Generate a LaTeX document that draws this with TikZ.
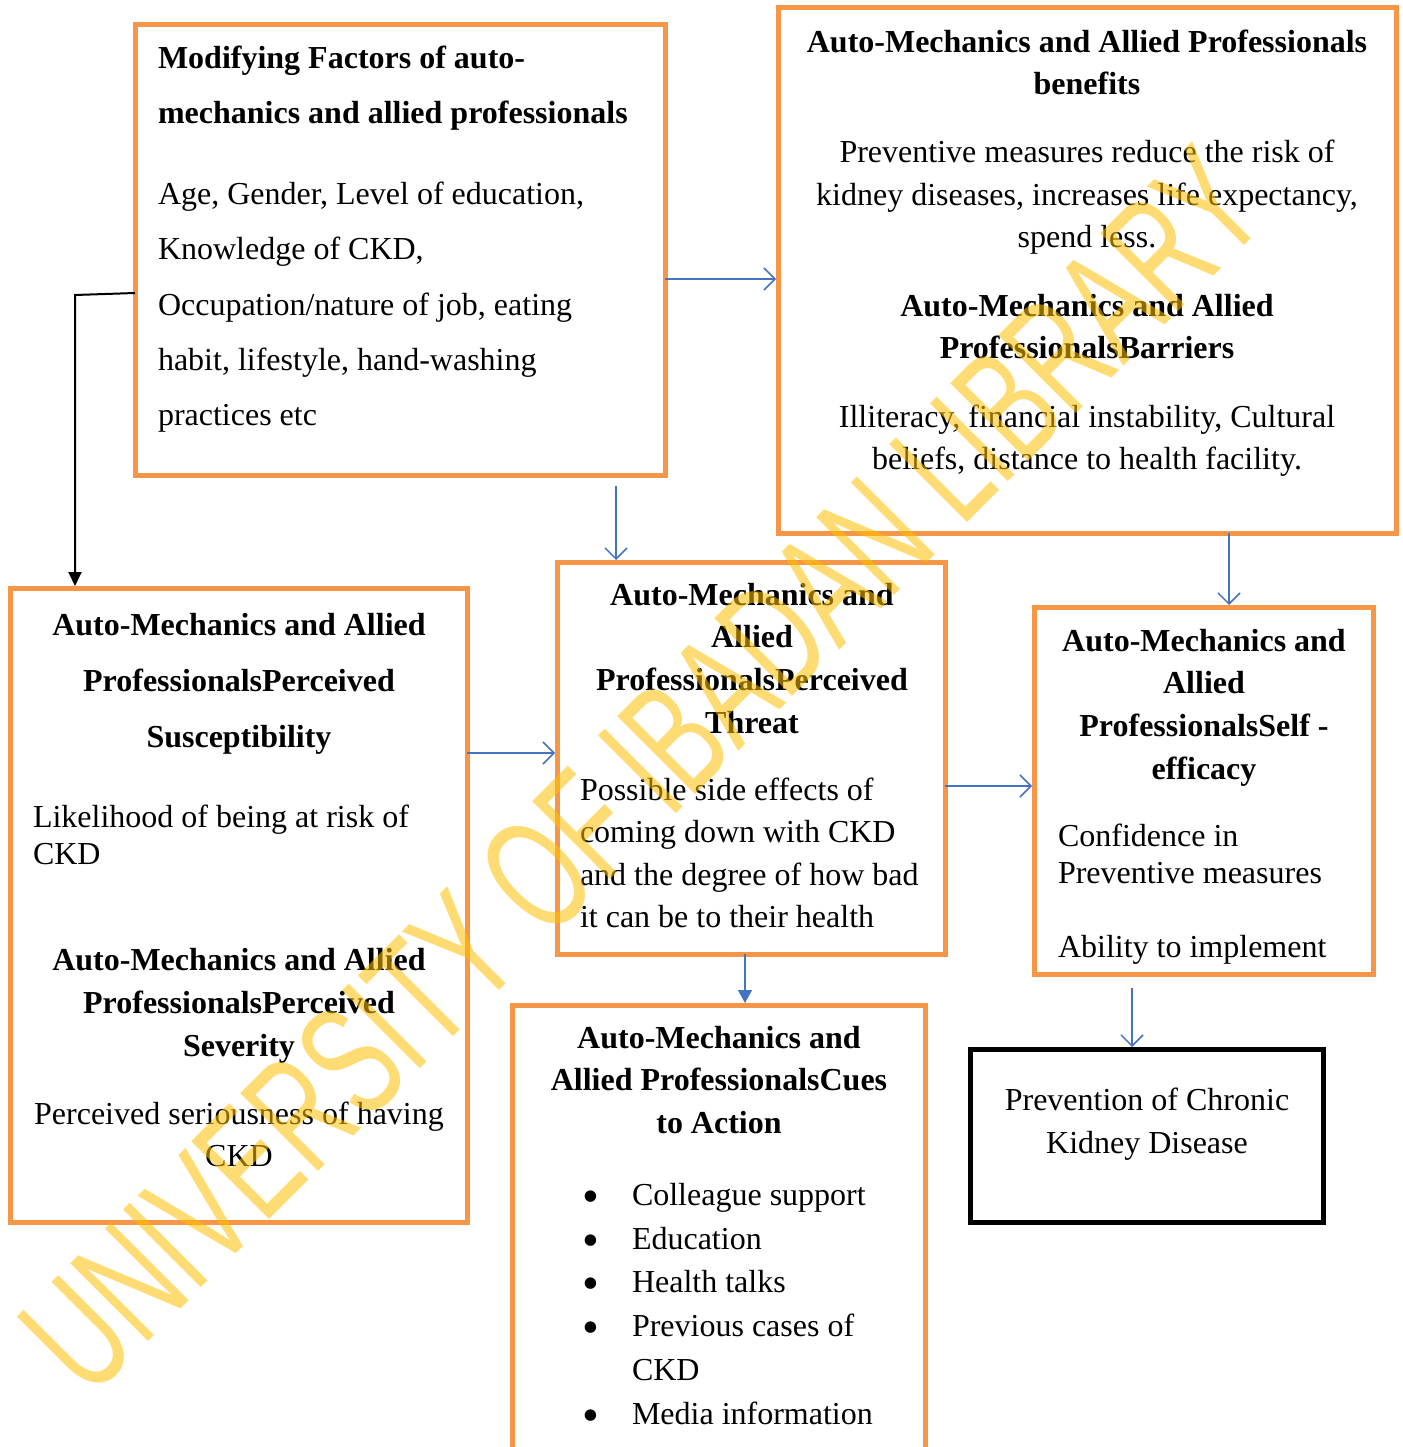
\documentclass[tikz,border=0pt]{standalone}
\usepackage{fontspec}
\setmainfont{Liberation Serif}
\newfontfamily\wmfont[FakeStretch=0.645]{Liberation Sans}
\usetikzlibrary{arrows.meta}
\definecolor{boxorange}{HTML}{F79646}
\definecolor{arrblue}{HTML}{4472C4}
\definecolor{wmyellow}{HTML}{FFC000}
\newcommand\fsz[1]{\fontsize{32}{#1}\selectfont}
\newcommand\bul{\llap{\raisebox{-7pt}{\fontsize{48}{48}\selectfont\textbullet}\hspace{33pt}}}
\begin{document}
\begin{tikzpicture}[x=1pt,y=-1pt,
  box/.style={draw=boxorange,line width=5pt,inner sep=0pt,outer sep=0pt},
  tc/.style={inner sep=0pt,outer sep=0pt,anchor=north,align=center},
  tl/.style={inner sep=0pt,outer sep=0pt,anchor=north west,align=left},
  arr/.style={draw=arrblue,line width=1.5pt,shorten >=2pt,-{Straight Barb[length=11pt,width=22pt,line width=1.5pt]}},
  arrf/.style={draw=arrblue,line width=1.5pt,shorten >=2pt,-{Triangle[length=13pt,width=14pt]}},
  blk/.style={draw=black,line width=2pt,shorten >=2pt,-{Triangle[length=14pt,width=13pt]}}]
\useasboundingbox (0,0) rectangle (1402,1447);
\clip (0,0) rectangle (1402,1447);
\fill[white] (0,0) rectangle (1402,1447);

% boxes
\node[box,minimum width=530,minimum height=450] (A) at (400,250) {};
\node[box,minimum width=618,minimum height=525] (B) at (1087,270.5) {};
\node[box,minimum width=457,minimum height=634] (C) at (238.5,905) {};
\node[box,minimum width=388,minimum height=392] (D) at (751,758) {};
\node[box,minimum width=339,minimum height=367] (E) at (1203.5,790.5) {};
\node[box,minimum width=413,minimum height=470] (F) at (718.5,1240) {};
\node[box,draw=black,minimum width=353,minimum height=173] (G) at (1146.5,1135.5) {};

% box A
\node[tl,font=\fsz{55}\bfseries] (Ah) at (158,46) {Modifying Factors of auto-\\mechanics and allied professionals};
\node[tl,font=\fsz{55.3}] (Ab) at (158,182) {Age, Gender, Level of education,\\Knowledge of CKD,\\Occupation/nature of job, eating\\habit, lifestyle, hand-washing\\practices etc};

% box B
\node[tc,font=\fsz{42}\bfseries] (Bh1) at (1087,30) {Auto-Mechanics and Allied Professionals\\benefits};
\node[tc,font=\fsz{42.5}] (Bb1) at (1087,140) {Preventive measures reduce the risk of\\kidney diseases, increases life expectancy,\\spend less.};
\node[tc,font=\fsz{42}\bfseries] (Bh2) at (1087,294) {Auto-Mechanics and Allied\\ProfessionalsBarriers};
\node[tc,font=\fsz{42}] (Bb2) at (1087,405) {Illiteracy, financial instability, Cultural\\beliefs, distance to health facility.};

% box C
\node[tc,font=\fsz{56}\bfseries] (Ch1) at (239,613) {Auto-Mechanics and Allied\\ProfessionalsPerceived\\Susceptibility};
\node[tl,font=\fsz{37}] (Cb1) at (33,805) {Likelihood of being at risk of\\CKD};
\node[tc,font=\fsz{43}\bfseries] (Ch2) at (239,948) {Auto-Mechanics and Allied\\ProfessionalsPerceived\\Severity};
\node[tc,font=\fsz{42}] (Cb2) at (239,1102) {Perceived seriousness of having\\CKD};

% box D
\node[tc,font=\fsz{42.7}\bfseries] (Dh) at (752,583) {Auto-Mechanics and\\Allied\\ProfessionalsPerceived\\Threat};
\node[tl,font=\fsz{42.3}] (Db) at (580,778) {Possible side effects of\\coming down with CKD\\and the degree of how bad\\it can be to their health};

% box E
\node[tc,font=\fsz{42.7}\bfseries] (Eh) at (1204,629) {Auto-Mechanics and\\Allied\\ProfessionalsSelf -\\efficacy};
\node[tl,font=\fsz{37}] (Eb1) at (1058,824) {Confidence in\\Preventive measures};
\node[tl,font=\fsz{37}] (Eb2) at (1058,935) {Ability to implement};

% box F
\node[tc,font=\fsz{42.7}\bfseries] (Fh) at (719,1026) {Auto-Mechanics and\\Allied ProfessionalsCues\\to Action};
\node[tl,font=\fsz{43.8}] (Fb) at (632,1183) {\bul Colleague support\\\bul Education\\\bul Health talks\\\bul Previous cases of\\CKD\\\bul Media information};

% box G
\node[tc,font=\fsz{43}] (Gb) at (1147,1088) {Prevention of Chronic\\Kidney Disease};

% connectors
\coordinate (s1) at (616,486);
\coordinate (s2) at (1132,988);
\coordinate (bend) at (75,295);
\draw[arr] (A.east |- 0,279) -- (B.west |- 0,279);
\draw[arr] (s1) -- (s1 |- D.north);
\draw[arr] (B.south -| 1229,0) -- (E.north -| 1229,0);
\draw[arr] (C.east |- 0,753) -- (D.west |- 0,753);
\draw[arr] (D.east |- 0,786) -- (E.west |- 0,786);
\draw[arrf] (D.south -| 745,0) -- (F.north -| 745,0);
\draw[arr] (s2) -- (s2 |- G.north);
\draw[blk] (A.west |- 0,293) -- (bend) -- (bend |- C.north);

% watermark
\node[inner sep=0pt,rotate=45,text=wmyellow,text opacity=0.55,font=\wmfont\fontsize{160}{160}\selectfont] (wm) at (642,770) {UNIVERSITY OF IBADAN LIBRARY};
\end{tikzpicture}
\end{document}
